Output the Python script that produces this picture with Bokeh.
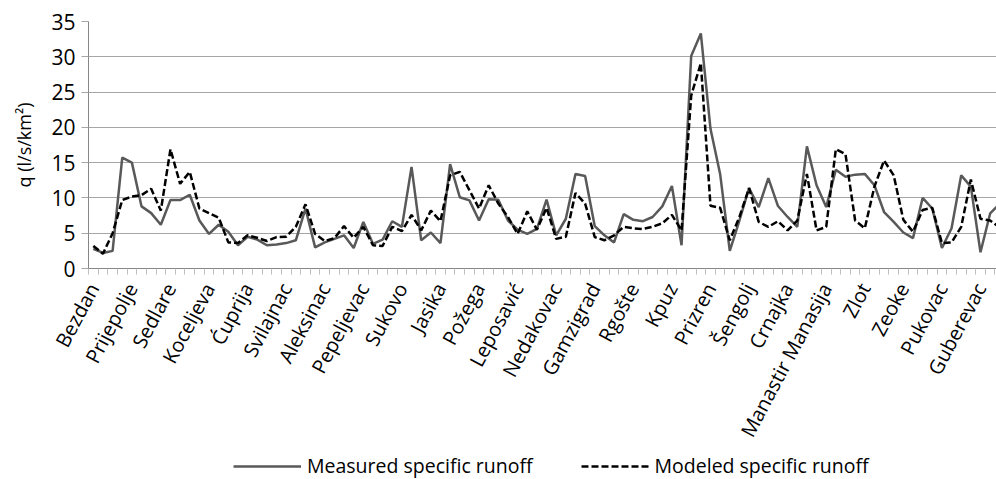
import math
from bokeh.plotting import figure
from bokeh.layouts import column
from bokeh.models import FixedTicker, Legend, LegendItem, ColumnDataSource, Range1d
from bokeh.embed import file_html
from bokeh.resources import INLINE

# ---- data ----
station_labels = ["Bezdan", "Prijepolje", "Sedlare", "Koceljeva", "Ćuprija", "Svilajnac",
                  "Aleksinac", "Pepeljevac", "Sukovo", "Jasika", "Požega", "Leposavić",
                  "Nedakovac", "Gamzigrad", "Rgošte", "Kpuz", "Prizren", "Šengolj",
                  "Crnajka", "Manastir Manasija", "Zlot", "Zeoke", "Pukovac", "Guberevac"]
label_every = 4

measured = [2.8, 2.2, 2.5, 15.7, 15.0, 8.8, 7.85, 6.2, 9.7, 9.7,
            10.45, 6.8, 4.9, 6.2, 5.2, 3.3, 4.5, 4.1, 3.3, 3.4,
            3.6, 4.0, 8.5, 3.0, 3.7, 4.2, 4.7, 2.9, 6.6, 3.5,
            4.1, 6.7, 5.9, 14.4, 4.0, 5.1, 3.6, 14.8, 10.1, 9.65,
            6.8, 9.8, 9.75, 6.8, 5.5, 4.9, 5.6, 9.75, 4.7, 7.05,
            13.4, 13.1, 6.0, 4.7, 3.7, 7.7, 6.9, 6.7, 7.3, 8.8,
            11.7, 3.3, 30.1, 33.3, 19.8, 13.4, 2.5, 6.8, 11.4, 8.7,
            12.8, 8.85, 7.3, 5.9, 17.3, 11.8, 8.7, 14.0, 13.0, 13.3,
            13.4, 11.8, 8.0, 6.6, 5.1, 4.3, 10.0, 8.5, 2.9, 5.7,
            13.2, 11.6, 2.3, 7.8, 9.2]

modeled = [3.2, 2.1, 5.0, 9.7, 10.2, 10.4, 11.3, 8.2, 16.9, 12.0,
           13.7, 8.5, 7.85, 7.2, 3.7, 3.6, 4.7, 4.35, 3.9, 4.45,
           4.5, 5.9, 9.1, 4.9, 3.9, 4.3, 6.0, 4.35, 5.9, 3.3,
           3.2, 5.9, 5.3, 7.6, 5.4, 8.2, 6.7, 13.2, 13.7, 11.1,
           8.5, 11.8, 9.2, 7.3, 4.9, 8.1, 5.5, 8.6, 4.2, 4.5,
           10.7, 9.2, 4.45, 4.0, 4.7, 5.9, 5.7, 5.6, 5.9, 6.4,
           7.6, 5.4, 24.5, 29.1, 8.9, 8.6, 4.0, 7.3, 11.4, 6.6,
           5.9, 6.7, 5.4, 6.8, 13.4, 5.4, 5.9, 16.9, 16.2, 6.8,
           5.7, 11.6, 15.3, 13.2, 6.9, 5.2, 8.3, 8.6, 3.6, 3.7,
           5.9, 12.6, 7.05, 6.8, 5.8]

y_ticks = [0, 5, 10, 15, 20, 25, 30, 35]

n = len(measured)
xs = [i + 0.5 for i in range(n)]
src = ColumnDataSource(dict(x=xs, measured=measured, modeled=modeled))

FONT = "Open Sans"
GRID = "#a6a6a6"
AXIS = "#868686"
MEAS_STYLE = dict(line_color="#595959", line_width=2.5)
MOD_STYLE = dict(line_color="#000000", line_width=2.5, line_dash="7 3")

p = figure(output_backend="svg", toolbar_location=None,
           x_range=Range1d(0, 94.16), y_range=Range1d(0, 35))
p.frame_width = 908
p.frame_height = 247
p.min_border_left = 88
p.min_border_right = 0
p.min_border_top = 21
p.min_border_bottom = 0
p.outline_line_color = None
p.background_fill_color = "white"
p.border_fill_color = "white"

p.line("x", "measured", source=src, **MEAS_STYLE)
p.line("x", "modeled", source=src, **MOD_STYLE)

# x axis
centers = [i * label_every + 0.5 for i in range(len(station_labels))]
xa = p.xaxis[0]
xa.ticker = FixedTicker(ticks=centers, minor_ticks=list(range(0, n + 1)))
xa.major_label_overrides = {c: name for c, name in zip(centers, station_labels)}
xa.major_tick_line_color = None
xa.minor_tick_line_color = "#bfbfbf"
xa.minor_tick_out = 6
xa.minor_tick_in = 0
xa.axis_line_color = AXIS
xa.major_label_orientation = math.radians(62)
xa.major_label_text_font = FONT
xa.major_label_text_font_size = "20px"
xa.major_label_text_color = "#000000"
xa.major_label_standoff = 10

# y axis
ya = p.yaxis[0]
ya.ticker = FixedTicker(ticks=y_ticks)
ya.minor_tick_line_color = None
ya.major_tick_line_color = GRID
ya.major_tick_out = 7
ya.major_tick_in = 0
ya.axis_line_color = AXIS
ya.major_label_text_font = FONT
ya.major_label_text_font_size = "21px"
ya.major_label_text_color = "#000000"
ya.major_label_standoff = 6
ya.axis_label = "q (l/s/km²)"
ya.axis_label_text_font = FONT
ya.axis_label_text_font_size = "18px"
ya.axis_label_text_font_style = "normal"
ya.axis_label_text_color = "#000000"
ya.axis_label_standoff = 12

p.xgrid.grid_line_color = None
p.ygrid.grid_line_color = GRID
p.ygrid.grid_line_width = 1

# legend strip under the chart
leg = figure(width=996, height=30, output_backend="svg", toolbar_location=None,
             x_axis_type=None, y_axis_type=None,
             x_range=Range1d(0, 1), y_range=Range1d(0, 1))
leg.min_border = 0
leg.outline_line_color = None
leg.xgrid.visible = False
leg.ygrid.visible = False
l1 = leg.line("x", "measured", source=src, visible=False, **MEAS_STYLE)
l2 = leg.line("x", "modeled", source=src, visible=False, **MOD_STYLE)

legend = Legend(items=[LegendItem(label="Measured specific runoff", renderers=[l1]),
                       LegendItem(label="Modeled specific runoff", renderers=[l2])],
                orientation="horizontal", location=(145, 1))
legend.label_text_font = FONT
legend.label_text_font_size = "19.5px"
legend.label_text_color = "#000000"
legend.glyph_width = 68
legend.glyph_height = 18
legend.label_standoff = 6
legend.spacing = 48
legend.border_line_color = None
legend.background_fill_alpha = 0
legend.inactive_fill_alpha = 0
legend.padding = 0
legend.margin = 0
leg.add_layout(legend)

layout = column(p, leg, spacing=0)
open("out.html", "w").write(file_html(layout, INLINE))
